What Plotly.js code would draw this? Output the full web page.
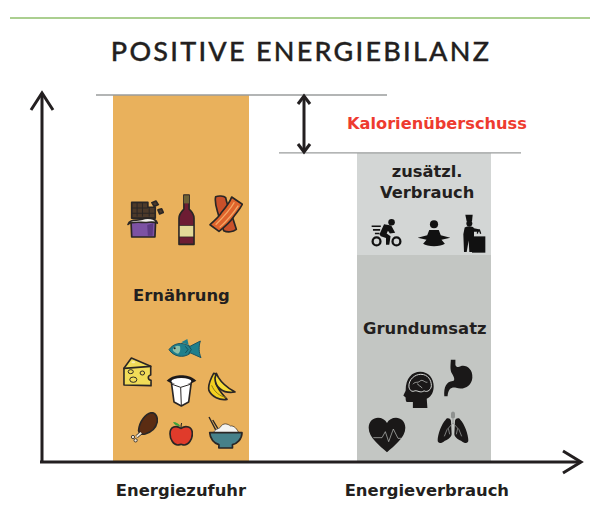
<!DOCTYPE html>
<html>
<head>
<meta charset="utf-8">
<script src="https://cdn.plot.ly/plotly-3.0.1.min.js"></script>
<style>
html,body{margin:0;padding:0;background:#fff}
#chart{width:590px;height:521px}
.gtitle{letter-spacing:2.25px;stroke:#231f20;stroke-width:.35px}
</style>
</head>
<body>
<div id="chart"></div>
<script>
// ---- data (arbitrary energy units; intake = 100) ----
const categories = ['Energiezufuhr', 'Energieverbrauch'];
const tickLabels = ['Energiezufuhr', '\u00a0Energieverbrauch'];
const ernaehrung = [100, null];
const grundumsatz = [null, 56.3];
const zusaetzlich = [null, 27.9];
const intakeTotal = 100;
const expenditureTotal = 84.2;

const INK = '#231f20';
const W = 590, H = 521, L = 41, R = 10, T = 90, B = 60;
const PW = W - L - R, PH = H - T - B;
const px = x => (x - L) / PW;
const py = y => (H - B - y) / PH;

function line(x0, y0, x1, y1, color, width) {
  return {type: 'line', xref: 'paper', yref: 'paper', x0: px(x0), y0: py(y0), x1: px(x1), y1: py(y1),
          line: {color: color, width: width}, layer: 'above'};
}
function chevron(a, b, c, width) {
  return {type: 'path', xref: 'paper', yref: 'paper', layer: 'above',
    path: `M${px(a[0])},${py(a[1])} L${px(b[0])},${py(b[1])} L${px(c[0])},${py(c[1])}`,
    line: {color: INK, width: width}, fillcolor: 'rgba(0,0,0,0)'};
}
function level(value, x0, x1) {
  return {type: 'line', xref: 'paper', yref: 'y', x0: px(x0), x1: px(x1), y0: value, y1: value,
          line: {color: '#9a9c9c', width: 1.4}, layer: 'above'};
}

const shapes = [
  line(10, 18, 590, 18, '#8fbf6b', 1.3),
  level(intakeTotal, 96, 387),
  level(expenditureTotal, 279, 521),
  line(42, 461, 42, 93, INK, 3),
  chevron([31, 110], [42, 93], [53, 110], 3),
  line(40, 462, 580, 462, INK, 3),
  chevron([563, 451], [581, 462], [563, 473], 3),
  line(304, 97, 304, 151, INK, 3),
  chevron([298, 104], [304, 96], [310, 104], 3),
  chevron([298, 144], [304, 152], [310, 144], 3)
];

function txt(text, x, y, size, color, weight) {
  return {text: text, xref: 'paper', yref: 'paper', x: px(x), y: py(y), xanchor: 'center', yanchor: 'middle',
          showarrow: false, align: 'center',
          font: {family: '"DejaVu Sans", sans-serif', size: size, color: color || INK, weight: weight || 700}};
}
const annotations = [
  txt('Kalorienüberschuss', 437, 123, 16.2, '#ee3b2f'),
  txt('Ernährung', 181, 295, 16.4),
  txt('zusätzl.<br>Verbrauch', 427, 182, 16.3),
  txt('Grundumsatz', 425, 328, 16.4)
];

// ---- decorative icons ----
const S = 'stroke="#2a2625" stroke-width="5" stroke-linejoin="round" stroke-linecap="round"';
const icons = [
  // chocolate
  [127, 200, 37, 38, 110, 115, `
    <path d="M14 55V7H62V22H84V55Z" fill="#4d3a2a" ${S}/>
    <path d="M30 8V50M46 8V50M14 24H62M14 40H84M66 24V50" stroke="#2a2625" stroke-width="3" fill="none"/>
    <path d="M74 8l12-5 7 11-12 6zM92 30l11-3 5 11-11 4z" fill="#4d3a2a" ${S}/>
    <path d="M12 66H85L83 112H14Z" fill="#7c52a3" ${S}/>
    <path d="M60 76L78 70L76 108H62Z" fill="#5d3a83"/>
    <path d="M3 74C8 56 30 64 45 58S84 54 90 70C78 64 66 68 54 68C38 68 14 64 3 74Z" fill="#f4f1ec" ${S}/>`],
  // wine
  [178, 194, 17, 52, 52, 155, `
    <path d="M18 3H34V45C45 55 49 62 49 72V150H3V72C3 62 8 55 18 45Z" fill="#6d1c33" ${S}/>
    <rect x="18" y="4" width="16" height="24" fill="#6e6236"/>
    <rect x="4" y="94" width="44" height="34" fill="#e3d998" stroke="#2a2625" stroke-width="2"/>`],
  // bacon
  [209, 195, 34, 38, 102, 115, `
    <path d="M20 5C28 2 44 2 50 8C54 30 62 48 70 66L82 104C72 112 56 114 44 108C40 88 30 72 26 52C22 38 16 20 20 5Z" fill="#c9502a" ${S}/>
    <path d="M68 6L100 28C92 44 84 52 74 66C62 84 48 96 30 110L3 90C14 78 28 70 38 52C50 38 62 24 68 6Z" fill="#e0642c" ${S}/>
    <path d="M76 22C64 44 42 68 20 90M88 32C74 54 56 76 32 98" stroke="#f4a866" stroke-width="4" fill="none"/>`],
  // fish
  [168, 339, 34, 21, 102, 63, `
    <path d="M3 32C15 14 40 6 66 22L97 6C92 22 92 40 99 56L68 42C46 60 16 52 3 32Z" fill="#1f7f8c" stroke="#1f5560" stroke-width="3" stroke-linejoin="round"/>
    <path d="M14 32C18 22 28 18 36 22C38 32 36 42 30 44C24 42 16 38 14 32Z" fill="#8dbfa8"/>
    <path d="M52 22L60 32L52 42M62 20L70 32L62 44" stroke="#14525c" stroke-width="3" fill="none"/>
    <circle cx="20" cy="28" r="3" fill="#222"/><path d="M40 10L58 0L62 18Z" fill="#1f7f8c"/>`],
  // cheese
  [123, 357, 29, 30, 90, 90, `
    <path d="M3 34L26 3L86 28V54C76 56 76 68 87 70V86L3 84Z" fill="#f1dc58" ${S}/>
    <path d="M3 34L86 28" ${S} fill="none"/>
    <ellipse cx="24" cy="44" rx="8" ry="6" fill="#f1dc58" stroke="#2a2625" stroke-width="3"/>
    <ellipse cx="60" cy="48" rx="7" ry="6" fill="#f1dc58" stroke="#2a2625" stroke-width="3"/>
    <ellipse cx="32" cy="68" rx="11" ry="8" fill="#f1dc58" stroke="#2a2625" stroke-width="3"/>
    <ellipse cx="32" cy="16" rx="6" ry="3" fill="#f7ecb0"/>`],
  // yoghurt
  [166, 374, 31, 33, 93, 99, `
    <path d="M16 24L24 84L46 96L68 84L76 24Z" fill="#fff" ${S}/>
    <path d="M44 40L46 95M16 30L44 40L76 30" stroke="#2a2625" stroke-width="3" fill="none"/>
    <path d="M2 20C18 6 32 4 46 4S74 6 91 20C76 30 62 30 46 30S16 30 2 20Z" fill="#1d1a1a"/>
    <ellipse cx="46" cy="22" rx="30" ry="10" fill="#fff"/>`],
  // banana
  [207, 372, 29, 29, 87, 87, `
    <path d="M20 4C10 22 2 42 6 56C14 74 38 86 60 82C52 72 34 56 26 32L27 6Z" fill="#f3d020" ${S}/>
    <path d="M24 18C24 44 46 66 84 60C74 54 50 42 34 16L28 4Z" fill="#f7dc37" ${S}/>
    <path d="M14 40C22 60 40 74 58 76" stroke="#8c7a16" stroke-width="3" fill="none"/>`],
  // chicken
  [130, 412, 28, 31, 85, 93, `
    <path d="M26 56C28 28 48 4 66 2C78 2 84 16 83 28C80 46 66 60 46 66C36 68 28 66 26 56Z" fill="#5b2c12" ${S}/>
    <path d="M34 62L20 74" stroke="#2a2625" stroke-width="10"/>
    <path d="M34 62L20 74" stroke="#efe6d4" stroke-width="6"/>
    <circle cx="9" cy="75" r="5" fill="#efe6d4" stroke="#2a2625" stroke-width="2.5"/>
    <circle cx="17" cy="85" r="5" fill="#efe6d4" stroke="#2a2625" stroke-width="2.5"/>`],
  // apple
  [169, 421, 24, 25, 72, 75, `
    <path d="M36 22C50 12 70 16 70 38C70 56 58 72 46 72C40 72 38 70 36 70C34 70 30 72 26 72C14 72 3 56 3 38C3 16 22 12 36 22Z" fill="#e03b2b" ${S}/>
    <path d="M36 20C36 14 36 10 38 6" stroke="#2a2625" stroke-width="3"/>
    <path d="M12 3C22 3 30 8 34 16C24 16 16 12 12 3Z" fill="#3ea23c"/>`],
  // rice bowl
  [208, 416, 35, 34, 103, 102, `
    <path d="M28 52L3 3M36 50L14 12" stroke="#2a2625" stroke-width="4"/>
    <path d="M16 52C20 38 30 40 36 34C44 18 60 24 66 30C76 28 86 38 92 54Z" fill="#f4f4f2" stroke="#2a2625" stroke-width="2"/>
    <path d="M5 50H100C100 70 84 84 72 86V96H32V86C18 82 6 68 5 50Z" fill="#46818a" ${S}/>`],
  // cyclist
  [371, 219, 31, 28, 95, 85, `
    <circle cx="17" cy="68" r="12" fill="none" stroke="#111" stroke-width="7"/>
    <circle cx="78" cy="68" r="12" fill="none" stroke="#111" stroke-width="7"/>
    <circle cx="63" cy="10" r="10" fill="#111"/>
    <path d="M26 46L40 16L62 20L74 42L58 44L52 36L48 44L60 52L56 78L46 78L46 58L30 52Z" fill="#111"/>
    <path d="M2 22H30M6 33H28M12 44H26" stroke="#111" stroke-width="5"/>`],
  // meditator
  [417, 220, 34, 27, 100, 82, `
    <circle cx="50" cy="13" r="12" fill="#111"/>
    <path d="M36 30H64L70 46L98 54L72 60L82 72C70 82 30 82 18 72L28 60L2 54L30 46Z" fill="#111"/>`],
  // chef
  [462, 214, 24, 39, 72, 115, `
    <path d="M10 2H32L30 22H14Z" fill="#111"/>
    <circle cx="22" cy="28" r="9" fill="#111"/>
    <path d="M8 40C20 34 32 36 36 42L54 46L52 52L36 52V64L32 112H22L20 78L14 112H6L4 60Z" fill="#111"/>
    <rect x="30" y="66" width="40" height="48" fill="#111"/>
    <path d="M48 48L46 58M52 46L56 58" stroke="#111" stroke-width="4"/>`],
  // head with brain
  [403, 371, 31, 38, 94, 115, `
    <path d="M30 112V94H14C8 94 8 86 8 80L1 74L8 60C8 20 28 2 52 2C78 2 93 22 93 46C93 62 88 76 72 84L74 112Z" fill="#1a1818"/>
    <path d="M18 48C16 26 36 10 54 10C76 10 86 28 86 44C86 56 74 66 64 60C52 68 44 58 36 60C28 64 20 60 18 48Z" fill="none" stroke="#d8dad8" stroke-width="3"/>
    <path d="M30 40C38 30 44 38 52 30C60 24 66 36 74 34M44 38C46 46 54 44 58 52" stroke="#d8dad8" stroke-width="2" fill="none"/>`],
  // stomach
  [443, 359, 30, 38, 92, 114, `
    <path d="M24 2H38V18C40 24 46 26 54 22C70 16 92 30 90 56C88 82 62 94 40 86C24 84 16 90 14 112H4C2 84 10 68 30 66C38 64 34 54 28 44C20 32 24 14 24 2Z" fill="#1a1818"/>`],
  // heart
  [368, 417, 38, 36, 114, 108, `
    <path d="M57 106C36 86 2 62 2 32C2 12 16 2 30 2C42 2 52 8 57 18C62 8 72 2 84 2C98 2 112 12 112 32C112 62 78 86 57 106Z" fill="#1a1818"/>
    <path d="M16 62H42L52 44L62 74L76 36L90 64H102" stroke="#c3c6c3" stroke-width="2" fill="none"/>`],
  // lungs
  [437, 411, 32, 33, 96, 99, `
    <path d="M42 30C42 22 30 18 26 26C14 38 2 70 2 88C2 98 12 98 20 92C30 86 42 82 44 70Z" fill="#1a1818"/>
    <path d="M54 30C54 22 66 18 70 26C82 38 94 70 94 88C94 98 84 98 76 92C66 86 54 82 52 70Z" fill="#1a1818"/>
    <path d="M48 2V36M48 36L30 56L22 76M48 36L66 56L74 76M34 52L38 70M62 52L58 70" stroke="#8f9290" stroke-width="2.5" fill="none"/>
    <rect x="42" y="2" width="12" height="20" rx="5" fill="#8f9290"/>`]
];

const images = icons.map(([x, y, w, h, vw, vh, body]) => ({
  source: 'data:image/svg+xml;charset=utf-8,' + encodeURIComponent(
    `<svg xmlns="http://www.w3.org/2000/svg" width="${vw * 2}" height="${vh * 2}" viewBox="0 0 ${vw} ${vh}">${body}</svg>`),
  xref: 'paper', yref: 'paper', x: px(x), y: py(y), sizex: w / PW, sizey: h / PH,
  xanchor: 'left', yanchor: 'top', sizing: 'stretch', layer: 'above'
}));

const barWidth = [0.558, 0.55];
const traces = [
  {type: 'bar', name: 'Ernährung', x: categories, y: ernaehrung, marker: {color: '#e9b15c'}, width: barWidth},
  {type: 'bar', name: 'Grundumsatz', x: categories, y: grundumsatz, marker: {color: '#c3c6c3'}, width: barWidth},
  {type: 'bar', name: 'zusätzl. Verbrauch', x: categories, y: zusaetzlich, marker: {color: '#d3d6d5'}, width: barWidth}
];

const layout = {
  width: W, height: H,
  margin: {l: L, r: R, t: T, b: B, pad: 0},
  paper_bgcolor: '#ffffff', plot_bgcolor: '#ffffff',
  showlegend: false, barmode: 'stack',
  title: {text: 'POSITIVE ENERGIEBILANZ', x: 301 / W, xanchor: 'center', y: 1 - 52 / H, yanchor: 'middle',
          font: {family: 'Lato, sans-serif', size: 27, color: INK, weight: 500}},
  xaxis: {type: 'category', range: [-0.576, 1.642], showgrid: false, zeroline: false, showline: false,
          tickmode: 'array', tickvals: categories, ticktext: tickLabels,
          ticks: 'outside', ticklen: 14, tickcolor: 'rgba(0,0,0,0)',
          tickfont: {family: '"DejaVu Sans", sans-serif', size: 16.4, color: INK, weight: 700}},
  yaxis: {range: [0, 101.37], showgrid: false, zeroline: false, showline: false, showticklabels: false, ticks: ''},
  shapes: shapes, annotations: annotations, images: images
};
Plotly.newPlot('chart', traces, layout, {displayModeBar: false, staticPlot: true});
</script>
</body>
</html>
